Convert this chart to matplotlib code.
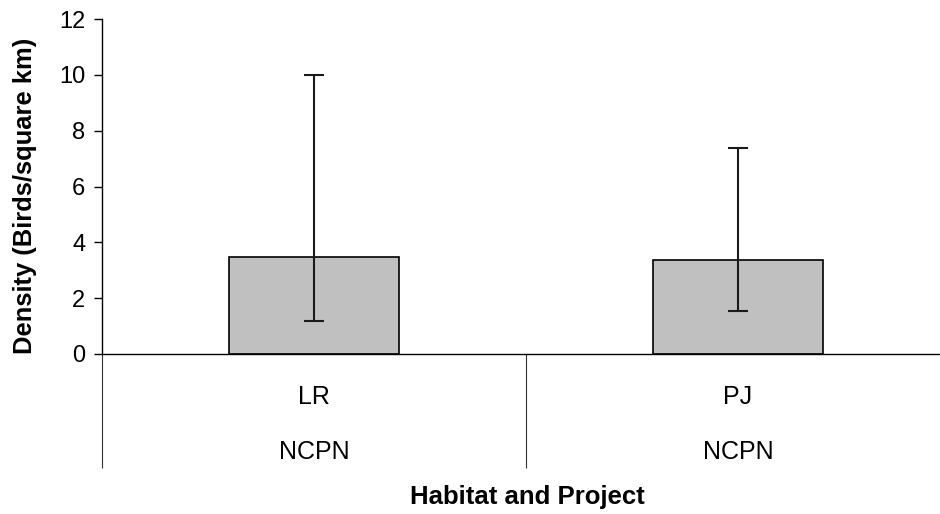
import matplotlib
matplotlib.use("Agg")
import matplotlib.pyplot as plt

categories = ["LR", "PJ"]
projects = ["NCPN", "NCPN"]
density = [3.49, 3.37]
err_low = [1.19, 1.53]
err_high = [10.0, 7.38]
yticks = [0, 2, 4, 6, 8, 10, 12]

plt.rcParams['font.family'] = ['Liberation Sans', 'DejaVu Sans']

W, H = 940, 514
fig = plt.figure(figsize=(W / 100, H / 100), dpi=100)
ax = fig.add_axes([102 / W, (H - 354) / H, 848 / W, 335 / H])

x = [0.5 + i for i in range(len(categories))]
yerr = [[d - lo for d, lo in zip(density, err_low)],
        [hi - d for d, hi in zip(density, err_high)]]
ax.bar(x, density, width=0.4, color="#c0c0c0", edgecolor="black", linewidth=1.2, zorder=2)
ax.errorbar(x, density, yerr=yerr, fmt="none", ecolor="#1a1a1a", elinewidth=1.5,
            capsize=7.5, capthick=1.5, zorder=3)

ax.set_xlim(0, 2)
ax.set_ylim(0, 12)
ax.set_yticks(yticks)
ax.set_yticklabels([str(t) for t in yticks], fontsize=17)
ax.tick_params(axis="y", direction="out", length=6, width=1, pad=6)
ax.set_xticks([0, 1, 2])
ax.set_xticklabels([])
ax.tick_params(axis="x", direction="out", length=82, width=0.8, color="#333333")
for s in ["top", "right"]:
    ax.spines[s].set_visible(False)
ax.spines["left"].set_linewidth(1.0)
ax.spines["bottom"].set_linewidth(1.0)

tr = ax.get_xaxis_transform()
for xi, c, p in zip(x, categories, projects):
    ax.text(xi, -(397 - 354) / 335, c, transform=tr, ha="center", va="center", fontsize=18)
    ax.text(xi, -(452 - 354) / 335, p, transform=tr, ha="center", va="center", fontsize=18)

fig.text(527 / W, 1 - 497 / H, "Habitat and Project", ha="center", va="center",
         fontsize=18.5, fontweight="bold")
fig.text(25 / W, 1 - 196 / H, "Density (Birds/square km)", ha="center", va="center",
         rotation=90, fontsize=18.4, fontweight="bold")

fig.savefig("out.png", dpi=100)
